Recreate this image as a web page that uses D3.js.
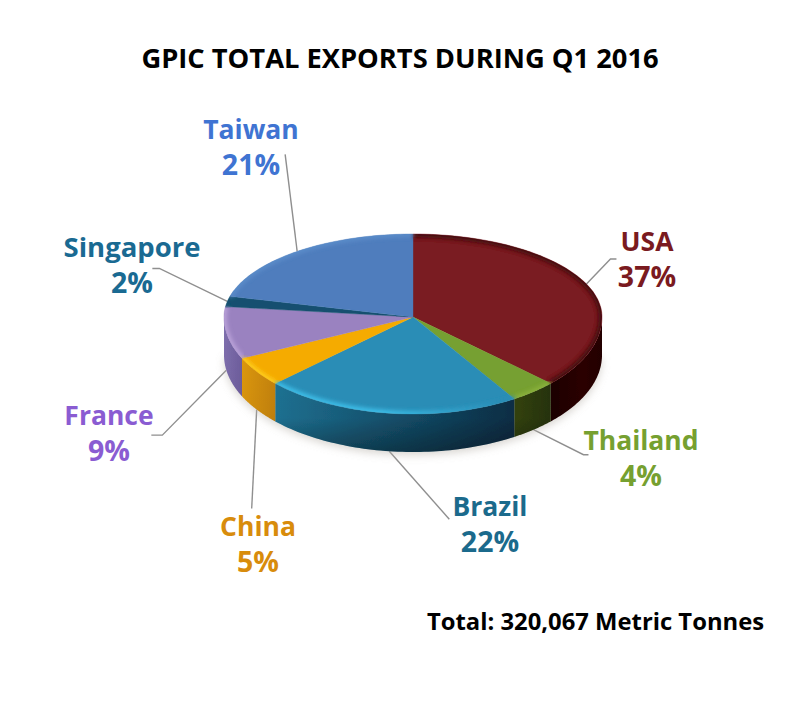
<!DOCTYPE html>
<html><head><meta charset="utf-8">
<script src="https://cdn.jsdelivr.net/npm/d3@7"></script>
<style>html,body{margin:0;background:#fff}svg{display:block}text{font-family:"Open Sans",sans-serif;font-weight:700}</style>
</head><body><div id="c"></div>
<script>
const categories=["USA","Thailand","Brazil","China","France","Singapore","Taiwan"];
const shares=[37,4,22,5,9,2,21];
const topColors=["#7a1a20","#76a030","#2a8db6","#f5ab00","#9a82c0","#14506f","#4f7dbd"];
const rimColors=["#45090d","#8cb33c","#3cc0ea","#ffd21a","#bda6dc","#14506f","#5c8ecb"];
const sideLight=["#4a0a0c","#35450f","#1f7597","#e09a0f","#7f6fae","#14506f","#3a5f92"];
const sideDark=["#1c0000","#28340c","#0b2f47","#c8850a","#6f5f9f","#14506f","#2f4f80"];
const textColors=["#7a1a20","#76a030","#1b6a8c","#d88c0c","#8a5cd2","#1a6a92","#3f74d2"];
const titleText="GPIC TOTAL EXPORTS DURING Q1 2016";
const totalText="Total: 320,067 Metric Tonnes";
const labelPos=[[647,251],[641,450],[490,516],[258,536],[109,425],[132,257],[251,139]];
const leaderElbows=[[[24,-25],[30,-25]],[[50,25],[55,25]],[[60,68]],[[-5,99]],[[-64,65],[-75,65]],[[-68,-33],[-75,-33]],[[-12,-97]]];

const W=800,H=703,cx=413,cy=317,rx=189,ryBack=83,ryFront=97,depth=38;
const svg=d3.select("#c").append("svg").attr("width",W).attr("height",H);
const defs=svg.append("defs");
const soft=defs.append("filter").attr("id","soft").attr("x","-5%").attr("y","-5%").attr("width","110%").attr("height","110%");
soft.append("feGaussianBlur").attr("stdDeviation",0.5);
const rimBlur=defs.append("filter").attr("id","rim").attr("x","-10%").attr("y","-10%").attr("width","120%").attr("height","120%");
rimBlur.append("feGaussianBlur").attr("stdDeviation",2.2);
const shBlur=defs.append("filter").attr("id","sh").attr("x","-10%").attr("y","-20%").attr("width","120%").attr("height","140%");
shBlur.append("feGaussianBlur").attr("stdDeviation",4);

const px=d3.scaleLinear().domain([-1,1]).range([cx-rx,cx+rx]);
const pyB=d3.scaleLinear().domain([0,1]).range([cy,cy-ryBack]);
const pyF=d3.scaleLinear().domain([0,1]).range([cy,cy-ryFront]);
const proj=(a,dz=0)=>{const c=Math.cos(a);return [px(Math.sin(a)),(c>=0?pyB(c):pyF(c))+dz];};
const arcs=d3.pie().sort(null).startAngle(0).endAngle(2*Math.PI)(shares);
const line=d3.line();
const samples=(a,b,dz=0)=>d3.range(0,61).map(i=>proj(a+(b-a)*i/60,dz));

const leaders=svg.append("g");
const g=svg.append("g").attr("filter","url(#soft)");
g.append("path").attr("d",line(samples(Math.PI/2,Math.PI*1.5,depth+3))+"Z").attr("fill","#b8b2aa").attr("opacity",.55).attr("filter","url(#sh)");

const midZ=[0,depth,depth,depth,depth,0,0];
arcs.forEach((d,i)=>{
  const p=proj((d.startAngle+d.endAngle)/2,midZ[i]);
  const pts=[p,...leaderElbows[i].map(o=>[p[0]+o[0],p[1]+o[1]])];
  leaders.append("path").attr("d",line(pts)).attr("fill","none").attr("stroke","#8f8f8f").attr("stroke-width",1.4);
});

const lo=Math.PI/2,hi=Math.PI*1.5;
arcs.forEach((d,i)=>{
  const a=Math.max(d.startAngle,lo),b=Math.min(d.endAngle,hi);
  if(b<=a)return;
  const id="side"+i;
  const pa=proj(a),pb=proj(b);
  const gr=defs.append("linearGradient").attr("id",id).attr("gradientUnits","userSpaceOnUse")
    .attr("x1",Math.min(pa[0],pb[0])).attr("x2",Math.max(pa[0],pb[0])).attr("y1",0).attr("y2",0);
  const leftCol=sideLight[i],rightCol=sideDark[i];
  gr.append("stop").attr("offset",0).attr("stop-color",i===0?rightCol:leftCol);
  if(i===0) gr.append("stop").attr("offset",.6).attr("stop-color","#2c0204");
  gr.append("stop").attr("offset",1).attr("stop-color",i===0?"#240000":rightCol);
  const pts=[...samples(a,b,0),...samples(b,a,depth)];
  g.append("path").attr("d",line(pts)+"Z").attr("fill",`url(#${id})`);
});
const vg=defs.append("linearGradient").attr("id","wallShade").attr("x1",0).attr("x2",0).attr("y1",0).attr("y2",1);
vg.append("stop").attr("offset",0).attr("stop-color","#000").attr("stop-opacity",0);
vg.append("stop").attr("offset",.75).attr("stop-color","#000").attr("stop-opacity",.05);
vg.append("stop").attr("offset",1).attr("stop-color","#000").attr("stop-opacity",.35);
g.append("path").attr("d",line([...samples(lo,hi,0),...samples(hi,lo,depth)])+"Z").attr("fill","url(#wallShade)");

defs.append("clipPath").attr("id","topClip").append("path").attr("d",line(samples(0,2*Math.PI))+"Z");
const face=g.append("g");
arcs.forEach((d,i)=>{
  face.append("path").attr("d",line([[cx,cy],...samples(d.startAngle,d.endAngle)])+"Z")
    .attr("fill",topColors[i]).attr("stroke",topColors[i]).attr("stroke-width",.4);
});
// Brazil's highlight fades out towards the right, as in the reference
const brazilRim=defs.append("linearGradient").attr("id","brazilRim").attr("gradientUnits","userSpaceOnUse")
  .attr("x1",proj(arcs[2].endAngle)[0]).attr("x2",proj(arcs[2].startAngle)[0]).attr("y1",0).attr("y2",0);
brazilRim.append("stop").attr("offset",.45).attr("stop-color",rimColors[2]);
brazilRim.append("stop").attr("offset",.95).attr("stop-color",topColors[2]);
const rims=g.append("g").attr("clip-path","url(#topClip)");
arcs.forEach((d,i)=>{
  rims.append("path").attr("d",line(samples(d.startAngle,d.endAngle))).attr("fill","none")
    .attr("stroke",i===2?"url(#brazilRim)":rimColors[i]).attr("stroke-width",i===2?6:i===0?7:5).attr("filter","url(#rim)");
});

svg.append("text").attr("x",400).attr("y",68).attr("text-anchor","middle").attr("font-size",27.3).attr("fill","#000").text(titleText);
categories.forEach((c,i)=>{
  const t=svg.append("g").attr("fill",textColors[i]).attr("text-anchor","middle");
  t.append("text").attr("x",labelPos[i][0]).attr("y",labelPos[i][1]).attr("font-size",i===5?27.5:26.5).text(c);
  t.append("text").attr("x",labelPos[i][0]).attr("y",labelPos[i][1]+36).attr("font-size",28.5).text(shares[i]+"%");
});
svg.append("text").attr("x",427).attr("y",630).attr("font-size",23.8).attr("fill","#000").text(totalText);
</script></body></html>
